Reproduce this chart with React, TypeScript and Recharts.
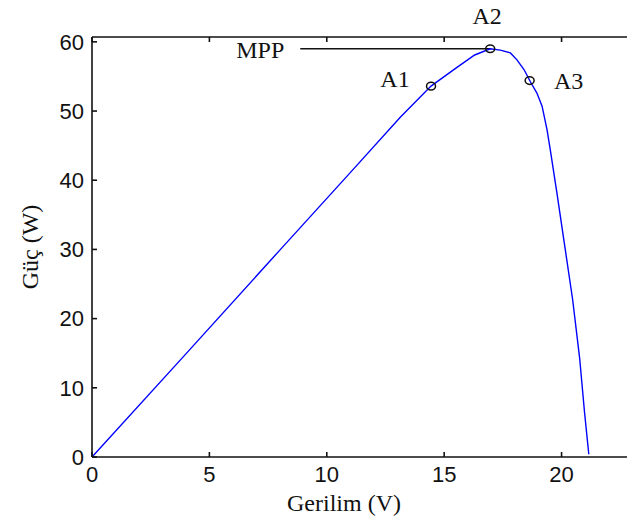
import React from 'react'
import {
  ComposedChart,
  Label,
  Line,
  ReferenceLine,
  Scatter,
  XAxis,
  YAxis,
} from 'recharts'

// PV curve
const voltage = [0, 4, 8, 11, 13.13, 14.44, 15.5, 16.3, 16.96, 17.39, 17.82, 18.1, 18.4, 18.66, 18.95, 19.17, 19.38, 19.52, 19.8, 20.1, 20.47, 20.77, 20.98, 21.16]
const power = [0, 14.9, 29.9, 41.1, 49.1, 53.6, 56.2, 58.1, 59.0, 58.8, 58.4, 57.4, 56.0, 54.3, 52.6, 50.7, 47.3, 44.4, 38.2, 31.3, 22.8, 14.3, 6.4, 0.4]

// marked operating points
const pointNames = ['A1', 'A2', 'A3']
const pointV = [14.44, 16.96, 18.64]
const pointP = [53.6, 59.0, 54.4]

// MPP pointer line
const mppStartV = 8.87

const xTicks = [0, 5, 10, 15, 20]
const yTicks = [0, 10, 20, 30, 40, 50, 60]

const curve = voltage.map((v, i) => ({ v, p: power[i] }))
const points = pointNames.map((name, i) => ({ name, v: pointV[i], p: pointP[i] }))
const mppLabel = [{ name: 'MPP', v: mppStartV, p: pointP[1] }]

const AXIS = '#111'
const SERIF = '"Liberation Serif", "Times New Roman", serif'
const SANS = '"Liberation Sans", Arial, sans-serif'

const LABEL_OFFSET: Record<string, [number, number]> = {
  A1: [-36, -7],
  A2: [-3, -33],
  A3: [39, 0],
  MPP: [-40, 1],
}

const noTick = () => <g />

function PointMark(props: any) {
  const { cx, cy, payload } = props
  const [dx, dy] = LABEL_OFFSET[payload.name]
  return (
    <g>
      <ellipse cx={cx} cy={cy} rx={4.5} ry={3.8} fill="none" stroke="#111" strokeWidth={1.5} />
      <text
        x={cx + dx}
        y={cy + dy}
        textAnchor="middle"
        dominantBaseline="central"
        fontFamily={SERIF}
        fontSize={24}
        fill="#111"
      >
        {payload.name}
      </text>
    </g>
  )
}

function TextMark(props: any) {
  const { cx, cy, payload } = props
  const [dx, dy] = LABEL_OFFSET[payload.name]
  return (
    <text
      x={cx + dx}
      y={cy + dy}
      textAnchor="middle"
      dominantBaseline="central"
      fontFamily={SERIF}
      fontSize={24}
      fill="#111"
    >
      {payload.name}
    </text>
  )
}

export default function App() {
  const axisLine = { stroke: AXIS, strokeWidth: 1.6 }
  const tickStyle = { fontSize: 22, fill: '#111', fontFamily: SANS }
  return (
    <div
      style={{
        position: 'absolute',
        left: 0,
        top: 0,
        width: 627,
        height: 523,
        overflow: 'hidden',
        background: '#fff',
      }}
    >
      <ComposedChart width={640} height={523} margin={{ top: 36, right: 7, bottom: 36, left: 32 }}>
        <XAxis
          dataKey="v"
          type="number"
          domain={[0, 23]}
          ticks={xTicks}
          height={30}
          tickSize={-5}
          tickMargin={14}
          axisLine={axisLine}
          tickLine={axisLine}
          tick={tickStyle}
        >
          <Label
            content={({ viewBox }: any) => (
              <text
                x={viewBox.x + viewBox.width / 2 - 18}
                y={viewBox.y + viewBox.height + 24}
                textAnchor="middle"
                fontFamily={SERIF}
                fontSize={24}
                fill="#111"
              >
                Gerilim (V)
              </text>
            )}
          />
        </XAxis>
        <XAxis
          xAxisId="top"
          orientation="top"
          dataKey="v"
          type="number"
          domain={[0, 23]}
          ticks={xTicks}
          height={1}
          tickSize={-5}
          axisLine={axisLine}
          tickLine={axisLine}
          tick={noTick}
        />
        <YAxis
          dataKey="p"
          type="number"
          domain={[0, 60.7]}
          ticks={yTicks}
          width={60}
          tickSize={-5}
          tickMargin={13}
          axisLine={axisLine}
          tickLine={axisLine}
          tick={tickStyle}
        >
          <Label
            content={({ viewBox }: any) => {
              const x = viewBox.x - 2
              const y = viewBox.y + viewBox.height / 2
              return (
                <text
                  x={x}
                  y={y}
                  transform={`rotate(-90, ${x}, ${y})`}
                  textAnchor="middle"
                  dominantBaseline="central"
                  fontFamily={SERIF}
                  fontSize={24}
                  fill="#111"
                >
                  Güç (W)
                </text>
              )
            }}
          />
        </YAxis>
        <YAxis
          yAxisId="right"
          orientation="right"
          dataKey="p"
          type="number"
          domain={[0, 60.7]}
          ticks={yTicks}
          width={1}
          tickSize={-5}
          axisLine={axisLine}
          tickLine={axisLine}
          tick={noTick}
        />
        <ReferenceLine
          segment={[
            { x: mppStartV, y: pointP[1] },
            { x: pointV[1], y: pointP[1] },
          ]}
          stroke="#111"
          strokeWidth={1.6}
        />
        <Line
          data={curve}
          dataKey="p"
          type="linear"
          stroke="#0000ff"
          strokeWidth={1.4}
          dot={false}
          activeDot={false}
          isAnimationActive={false}
        />
        <Scatter data={points} dataKey="p" shape={PointMark} isAnimationActive={false} />
        <Scatter
          data={mppLabel}
          dataKey="p"
          xAxisId="top"
          yAxisId="right"
          shape={TextMark}
          isAnimationActive={false}
        />
      </ComposedChart>
    </div>
  )
}
